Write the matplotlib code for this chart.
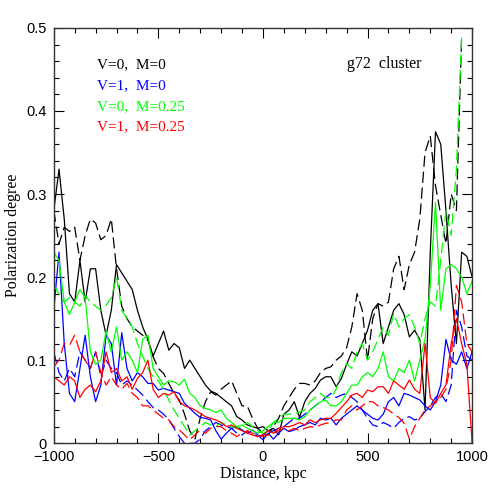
import numpy as np
import matplotlib
matplotlib.use("Agg")
import matplotlib.pyplot as plt
from matplotlib.ticker import MultipleLocator

nan = np.nan

# distance grid, kpc
dist = np.arange(-1000, 1001, 25)

# V=0, M=0
black_solid = [
    0.28, 0.33, 0.27, 0.18, 0.17, 0.22, 0.17, 0.21, 0.21, 0.16,
    0.13, 0.16, 0.215, 0.205, 0.195, 0.185, 0.16, 0.14, 0.125, 0.105,
    0.12, 0.135, 0.112, 0.12, 0.115, 0.09, 0.10, 0.09, 0.08, 0.07,
    0.063, 0.06, 0.055, 0.05, 0.045, 0.032, 0.028, 0.022, 0.02, 0.018,
    0.02, 0.015, 0.018, 0.01, 0.035, 0.04, 0.05, 0.031, 0.05, 0.06,
    0.066, 0.076, 0.08, 0.08, 0.068, 0.078, 0.095, 0.11, 0.105, 0.12,
    0.136, 0.16, 0.168, 0.12, 0.14, 0.16, 0.168, 0.155, 0.128, 0.136,
    0.125, 0.04, 0.23, 0.375, 0.36, 0.28, 0.19, 0.12, 0.23, 0.225,
    0.20]
black_dash = [
    0.28, 0.24, 0.26, 0.255, 0.26, 0.22, 0.25, 0.27, 0.265, 0.245,
    0.25, 0.27, 0.21, 0.165, 0.15, 0.14, 0.135, 0.13, 0.124, 0.104,
    0.09, 0.084, 0.072, 0.06, 0.052, 0.035, 0.015, 0.005, 0.03, 0.05,
    0.062, 0.058, 0.065, 0.07, 0.075, 0.06, 0.045, 0.045, 0.03, 0.018,
    0.012, 0.01, 0.02, 0.03, 0.045, 0.055, 0.065, 0.072, 0.072, 0.07,
    0.075, 0.085, 0.09, 0.092, 0.10, 0.105, 0.115, 0.14, 0.18, 0.16,
    0.10, 0.15, 0.168, 0.165, 0.17, 0.21, 0.225, 0.185, 0.215, 0.23,
    0.27, 0.35, 0.37, 0.31, 0.275, 0.24, 0.30, 0.28, 0.49, nan,
    nan]

# V=1, M=0
blue_solid = [
    0.16, 0.23, 0.12, 0.06, 0.05, 0.09, 0.13, 0.08, 0.05, 0.07,
    0.13, 0.12, 0.07, 0.133, 0.09, 0.075, 0.085, 0.08, 0.072, 0.072,
    0.064, 0.066, 0.064, 0.062, 0.06, 0.048, 0.042, 0.036, 0.031, 0.03,
    0.028, 0.015, 0.005, 0.012, 0.018, 0.02, 0.016, 0.012, 0.016, 0.01,
    0.004, 0.012, 0.005, 0.012, 0.018, 0.014, 0.016, 0.02, 0.022, 0.025,
    0.022, 0.03, 0.028, 0.03, 0.022, 0.03, 0.035, 0.04, 0.045, 0.04,
    0.035, 0.03, 0.028, 0.035, 0.05, 0.055, 0.045, 0.06, 0.058, 0.055,
    0.052, 0.045, 0.04, 0.05, 0.07, 0.125, 0.10, 0.095, 0.11, 0.09,
    0.11]
blue_dash = [
    0.11, 0.085, 0.075, 0.09, 0.08, 0.11, 0.10, 0.09, 0.11, 0.08,
    0.10, 0.09, 0.085, 0.07, 0.075, 0.07, 0.064, 0.058, 0.05, 0.043,
    0.04, 0.035, 0.028, 0.018, 0.008, 0.0, 0.0, 0.0, 0.005, 0.015,
    0.02, 0.025, 0.022, 0.02, 0.018, 0.012, 0.01, 0.015, 0.012, 0.008,
    0.01, 0.012, 0.015, 0.018, 0.02, 0.025, 0.03, 0.03, 0.035, 0.04,
    0.045, 0.05, 0.055, 0.06, 0.055, 0.058, 0.06, 0.055, 0.05, 0.04,
    0.03, 0.022, 0.02, 0.025, 0.022, 0.018, 0.025, 0.03, 0.032, 0.028,
    0.03, 0.038, 0.045, 0.055, 0.06, 0.05, 0.07, 0.16, 0.14, 0.105,
    0.10]

# V=0, M=0.25
green_solid = [
    0.23, 0.22, 0.17, 0.155, 0.17, 0.185, 0.175, 0.11, 0.095, 0.10,
    0.135, 0.11, 0.14, 0.10, 0.11, 0.10, 0.085, 0.125, 0.13, 0.09,
    0.08, 0.07, 0.075, 0.074, 0.07, 0.077, 0.06, 0.055, 0.045, 0.042,
    0.04, 0.037, 0.04, 0.03, 0.025, 0.02, 0.022, 0.018, 0.015, 0.012,
    0.015, 0.02, 0.025, 0.025, 0.03, 0.03, 0.03, 0.028, 0.032, 0.04,
    0.045, 0.05, 0.052, 0.045, 0.045, 0.05, 0.06, 0.07, 0.07, 0.08,
    0.085, 0.08, 0.09, 0.11, 0.08, 0.075, 0.09, 0.085, 0.10, 0.075,
    0.10, 0.125, 0.19, 0.29, 0.16, 0.21, 0.215, 0.21, 0.20, 0.18,
    0.195]
green_dash = [
    0.19, 0.18, 0.17, 0.175, 0.17, 0.165, 0.178, 0.17, 0.165, 0.16,
    0.166, 0.175, 0.20, 0.16, 0.15, 0.14, 0.12, 0.105, 0.09, 0.08,
    0.075, 0.065, 0.052, 0.04, 0.03, 0.02, 0.01, 0.015, 0.02, 0.025,
    0.022, 0.02, 0.025, 0.022, 0.02, 0.018, 0.02, 0.025, 0.02, 0.015,
    0.012, 0.015, 0.025, 0.03, 0.035, 0.035, 0.035, 0.038, 0.04, 0.05,
    0.055, 0.06, 0.055, 0.055, 0.065, 0.085, 0.096, 0.09, 0.11, 0.12,
    0.10, 0.11, 0.125, 0.14, 0.13, 0.156, 0.14, 0.15, 0.155, 0.14,
    0.12, 0.15, 0.17, 0.165, 0.22, 0.28, 0.25, 0.33, 0.49, nan,
    nan]

# V=1, M=0.25
red_solid = [
    0.08, 0.075, 0.07, 0.08, 0.075, 0.055, 0.065, 0.07, 0.062, 0.075,
    0.11, 0.085, 0.09, 0.075, 0.08, 0.065, 0.078, 0.085, 0.10, 0.065,
    0.055, 0.06, 0.058, 0.062, 0.05, 0.045, 0.043, 0.04, 0.036, 0.032,
    0.03, 0.028, 0.025, 0.02, 0.022, 0.018, 0.015, 0.012, 0.01, 0.008,
    0.01, 0.015, 0.012, 0.018, 0.02, 0.02, 0.022, 0.025, 0.022, 0.028,
    0.025, 0.028, 0.03, 0.03, 0.036, 0.043, 0.05, 0.058, 0.06, 0.055,
    0.064, 0.062, 0.068, 0.068, 0.06, 0.075, 0.07, 0.065, 0.076, 0.065,
    0.06, 0.12, 0.055, 0.048, 0.06, 0.07, 0.12, 0.15, 0.12, 0.095,
    0.0]
red_dash = [
    0.092, 0.10, 0.12, 0.118, 0.13, 0.11, 0.10, 0.09, 0.11, 0.085,
    0.07, 0.08, 0.07, 0.065, 0.072, 0.06, 0.055, 0.045, 0.045, 0.04,
    0.035, 0.03, 0.028, 0.02, 0.016, 0.01, 0.004, 0.01, 0.016, 0.012,
    0.018, 0.02, 0.02, 0.015, 0.012, 0.008, 0.012, 0.015, 0.012, 0.01,
    0.008, 0.01, 0.012, 0.015, 0.018, 0.015, 0.018, 0.015, 0.018, 0.02,
    0.019, 0.022, 0.024, 0.025, 0.028, 0.028, 0.04, 0.045, 0.04, 0.045,
    0.05, 0.05, 0.045, 0.043, 0.04, 0.035, 0.031, 0.024, 0.005, 0.02,
    0.03, 0.04, 0.045, 0.05, 0.055, 0.065, 0.10, 0.19, 0.17, 0.12,
    0.11]

labels = ["V=0,  M=0", "V=1,  M=0", "V=0,  M=0.25", "V=1,  M=0.25"]
colors = ["black", "#0000ff", "#00ff00", "#ff0000"]
solid = [black_solid, blue_solid, green_solid, red_solid]
dashed = [black_dash, blue_dash, green_dash, red_dash]

plt.rcParams['lines.scale_dashes'] = False
serif = "Liberation Serif"

fig = plt.figure(figsize=(4.98, 4.98), dpi=100)
ax = fig.add_axes([0.108, 0.110, 0.840, 0.834])

for c, ys, yd in zip(colors, solid, dashed):
    ax.plot(dist, ys, color=c, lw=0.9)
    ax.plot(dist, yd, color=c, lw=0.9, dashes=(8, 3.5))

ax.set_xlim(-1000, 1000)
ax.set_ylim(0, 0.5)
ax.xaxis.set_major_locator(MultipleLocator(500))
ax.xaxis.set_minor_locator(MultipleLocator(100))
ax.yaxis.set_major_locator(MultipleLocator(0.1))
ax.yaxis.set_minor_locator(MultipleLocator(0.02))
ax.tick_params(which='both', direction='in', top=True, right=True, width=0.8)
ax.tick_params(which='major', length=7, labelsize=10.5, pad=5)
ax.tick_params(which='minor', length=3.5)
ax.set_yticks([0, 0.1, 0.2, 0.3, 0.4, 0.5])
ax.set_yticklabels(["0", "0.1", "0.2", "0.3", "0.4", "0.5"])
ax.set_xticks([-1000, -500, 0, 500, 1000])
ax.set_xticklabels(["\u22121000", "\u2212500", "0", "500", "1000"])
for lab in ax.get_xticklabels() + ax.get_yticklabels():
    lab.set_family("Liberation Sans")
for sp in ax.spines.values():
    sp.set_linewidth(1.0)
    sp.set_color("#333333")

ax.set_xlabel("Distance, kpc", family=serif, fontsize=11.5, labelpad=1)
ax.set_ylabel("Polarization degree", family=serif, fontsize=11.5, labelpad=4)

ty = [0.456, 0.431, 0.405, 0.381]
for lab, c, y in zip(labels, colors, ty):
    ax.text(-795, y, lab, color=c, family=serif, fontsize=11, va='center')
ax.text(400, 0.456, "g72  cluster", color="black", family=serif, fontsize=11.5,
        va='center')

fig.savefig("out.png", dpi=100)
